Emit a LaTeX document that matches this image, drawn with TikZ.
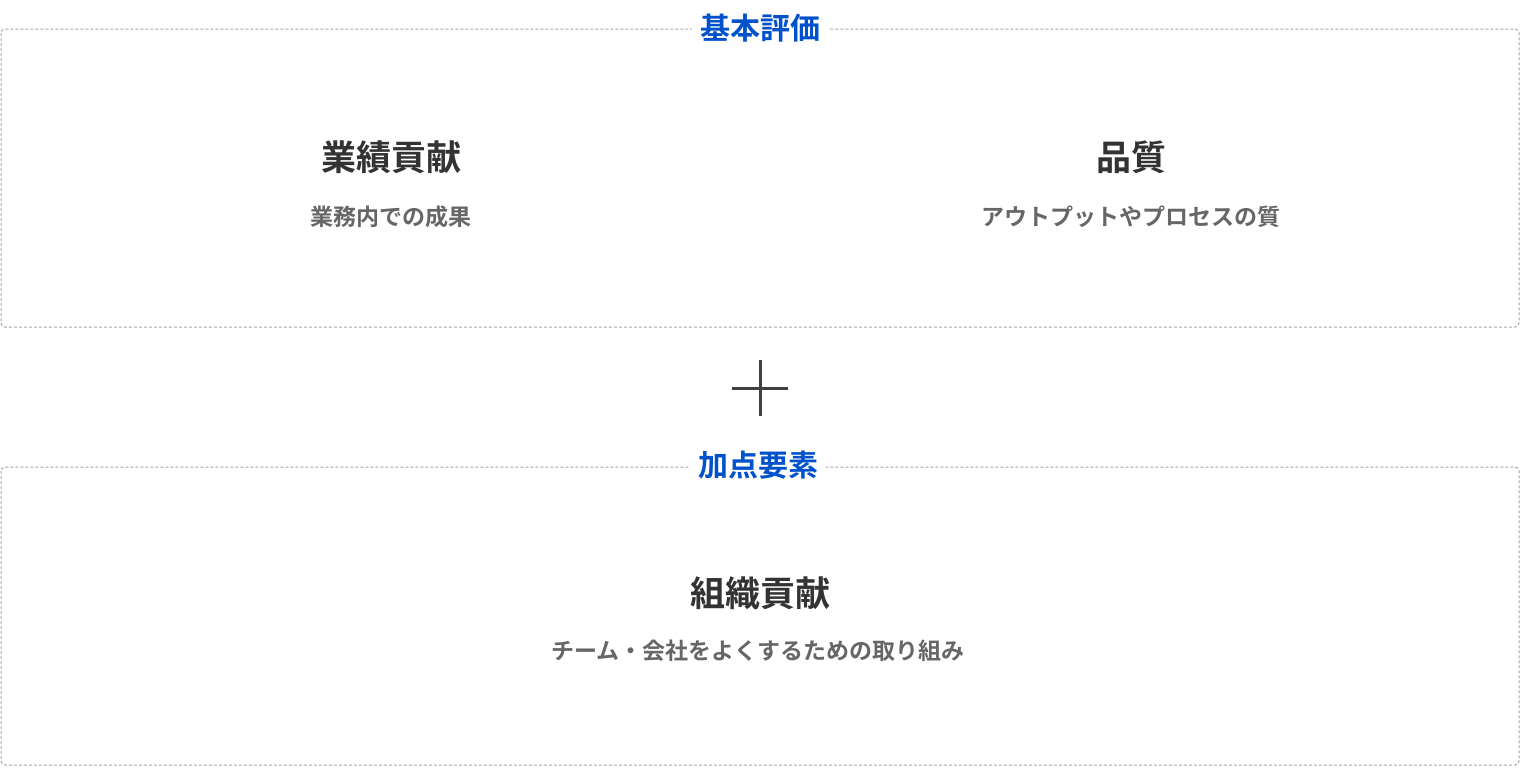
\documentclass[tikz,border=0pt]{standalone}
\usepackage{fontspec}
\newfontfamily\jp{Noto Sans CJK JP}[BoldFont={Noto Sans CJK JP Bold}]
\begin{document}
\begin{tikzpicture}[x=1pt,y=-1pt,
  box/.style={draw=gray!70,dashed,dash pattern=on 3pt off 2pt,line width=1pt,rounded corners=4pt},
  ttl/.style={fill=white,inner xsep=8pt,inner ysep=2pt,text=blue!60!cyan!80!black,font=\jp\bfseries\fontsize{30}{32}\selectfont},
  head/.style={text=black!80,font=\jp\bfseries\fontsize{35}{38}\selectfont},
  sub/.style={text=black!60,font=\jp\bfseries\fontsize{23}{26}\selectfont}]
\useasboundingbox (0,0) rectangle (1520,780);
\draw[box] (1,29) rectangle (1519,327);
\draw[box] (1,467) rectangle (1519,765);
\node[ttl] (t1) at (760,28) {基本評価};
\node[ttl] (t2) at (758,465) {加点要素};
\node[head] (h1) at (391,157) {業績貢献};
\node[sub] (s1) at (391,217) {業務内での成果};
\node[head] (h2) at (1131,157) {品質};
\node[sub] (s2) at (1131,217) {アウトプットやプロセスの質};
\node[head] (h3) at (760,593) {組織貢献};
\node[sub] (s3) at (758,651) {チーム・会社をよくするための取り組み};
\coordinate (p) at (760,388);
\draw[line width=3pt,black!75] ([xshift=-28pt]p) -- ([xshift=28pt]p) ([yshift=-28pt]p) -- ([yshift=28pt]p);
\end{tikzpicture}
\end{document}
